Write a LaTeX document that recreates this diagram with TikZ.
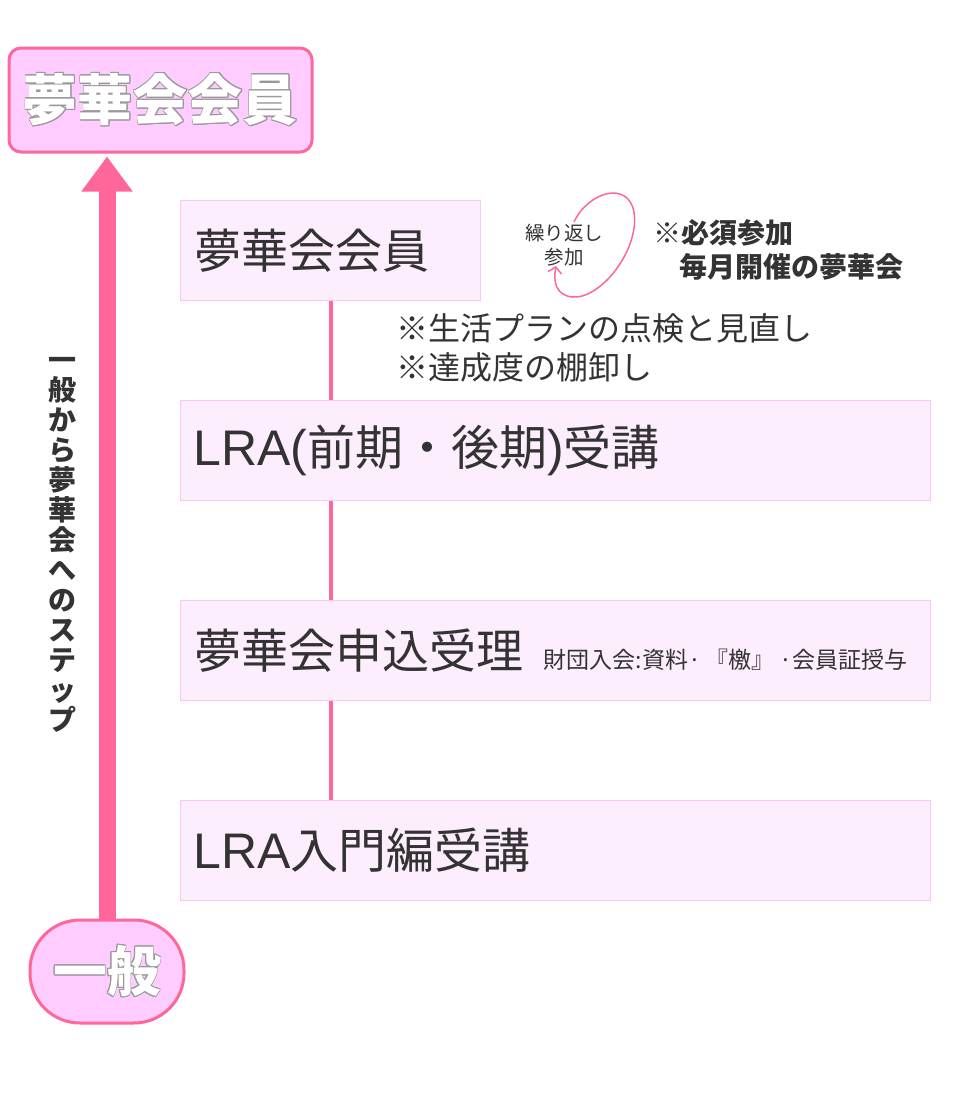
\documentclass[tikz,border=0pt]{standalone}
\usepackage{fontspec}
\setmainfont{Noto Sans CJK JP}
\newfontfamily\latfont{Liberation Sans}
\usepackage{contour}
\usetikzlibrary{arrows.meta}
\definecolor{pinkline}{HTML}{FF6699}
\definecolor{titlefill}{HTML}{FFCCFF}
\definecolor{stepfill}{HTML}{FDEEFD}
\definecolor{stepdraw}{HTML}{F7C8F7}
\definecolor{ink}{HTML}{333333}
\definecolor{outl}{HTML}{999999}
\contourlength{0.9pt}
\newcommand{\latin}[1]{{\latfont\fontsize{50}{52}\selectfont #1}}
\begin{document}
\begin{tikzpicture}[x=1pt,y=-1pt,
  titlebox/.style={draw=pinkline, line width=3pt, fill=titlefill, rounded corners=12pt, minimum width=303pt, minimum height=104pt, inner sep=0pt},
  genbox/.style={draw=pinkline, line width=3pt, fill=titlefill, rounded corners=50pt, minimum width=154pt, minimum height=103pt, inner sep=0pt},
  stepbox/.style={draw=stepdraw, line width=1pt, fill=stepfill, anchor=north west, inner sep=0pt, minimum height=100pt},
  steptext/.style={anchor=west, inner sep=0pt, text=ink, font=\fontsize{47}{52}\selectfont},
  steptextb/.style={anchor=west, inner sep=0pt, text=ink, font=\fontsize{48}{52}\selectfont},
  smalltext/.style={anchor=base west, inner sep=0pt, text=ink, font=\fontsize{23}{26}\selectfont},
  notetext/.style={anchor=west, inner sep=0pt, text=ink, font=\fontsize{32}{36}\selectfont},
  boldnote/.style={anchor=west, inner sep=0pt, text=ink, font=\fontsize{28}{32}\selectfont\bfseries},
  conn/.style={draw=pinkline, line width=4pt},
]
\useasboundingbox (0,0) rectangle (960,1100);

% title and bottom nodes
\node[titlebox] (top) at (160.5,100) {\fontsize{55}{60}\selectfont\bfseries\color{white}\contour{outl}{夢華会会員}};
\node[genbox] (gen) at (107,971.5) {\fontsize{54}{60}\selectfont\bfseries\color{white}\contour{outl}{一般}};

% big arrow
\draw[pinkline, line width=17pt, -{Triangle[length=35pt,width=49pt]}, shorten >=3pt] (gen.north) -- (gen.north |- top.south);

% vertical label
\node[align=center, inner sep=0pt, text=ink, font=\fontsize{28}{30}\selectfont\bfseries] (vlabel) at (62,545)
  {一\\般\\か\\ら\\夢\\華\\会\\へ\\の\\ス\\テ\\ッ\\プ};

% step boxes
\node[stepbox, minimum width=300pt] (b1) at (180,200) {};
\node[stepbox, minimum width=750pt] (b2) at (180,400) {};
\node[stepbox, minimum width=750pt] (b3) at (180,600) {};
\node[stepbox, minimum width=750pt] (b4) at (180,800) {};

% connectors
\draw[conn] (b1.south) -- (b1.south |- b2.north);
\draw[conn] (b1.south |- b2.south) -- (b1.south |- b3.north);
\draw[conn] (b1.south |- b3.south) -- (b1.south |- b4.north);

% step texts
\node[steptext] (t1) at ([xshift=14pt]b1.west) {夢華会会員};
\node[steptextb] (t2) at ([xshift=13pt]b2.west) {\latin{LRA(}前期・後期\latin{)}受講};
\node[steptext] (t3) at ([xshift=14pt]b3.west) {夢華会申込受理};
\node[smalltext] (t3s) at ([xshift=20pt]t3.base east) {財団入会:資料·\hspace{5pt}『檄』\hspace{5pt}·会員証授与};
\node[steptextb] (t4) at ([xshift=13pt]b4.west) {\latin{LRA}入門編受講};

% notes
\node[notetext] (n1) at (396,328) {※生活プランの点検と見直し};
\node[notetext] (n2) at (396,367) {※達成度の棚卸し};

% repeat loop
\node[align=center, inner sep=0pt, text=ink, font=\fontsize{19.5}{24}\selectfont] (rep) at (564,245) {繰り返し\\参加};
\draw[pinkline, line width=1.5pt, -{Straight Barb[length=6pt,width=14pt]}]
  (574,222) .. controls (588,192) and (628,180) .. (634,212)
  .. controls (640,250) and (600,300) .. (572,297)
  .. controls (556,295) and (553,282) .. (556,266);

\node[boldnote] (m1) at (653,233) {※必須参加};
\node[boldnote] (m2) at (679,267) {毎月開催の夢華会};
\end{tikzpicture}
\end{document}
